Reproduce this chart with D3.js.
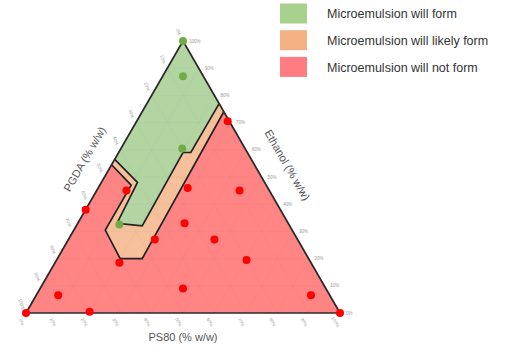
<!DOCTYPE html>
<html>
<head>
<meta charset="utf-8">
<script src="https://cdn.jsdelivr.net/npm/d3@7"></script>
<style>
  body { margin: 0; background: #fff; }
  svg { display: block; font-family: "Liberation Sans", Arial, sans-serif; }
</style>
</head>
<body>
<svg id="chart" width="508" height="351"></svg>
<script>
// values are [Ethanol %, PS80 %], PGDA is the rest
var formPoints = [[100, 0], [87, 6.5], [60.5, 19.5], [32.5, 13.5]];
var notFormPoints = [
  [70.5, 29], [45, 9.5], [46, 28.5], [45, 45.5], [38, 0], [33, 34],
  [27, 27.5], [27, 46.5], [18.5, 20.5], [19.5, 60.5], [9, 45.5],
  [6.5, 7], [0.5, 20], [0, 0], [6.5, 87.5], [0, 100]
];
// region boundaries, from left edge to right edge
var formEdge = [[56.5, 0], [48, 11.5], [33, 12.5], [32, 21], [59, 20.5], [59, 23], [77, 23]];
var likelyEdge = [[54.5, 0], [47, 10], [30.5, 10], [20, 20], [20, 27], [74, 26]];

var tickValues = [0, 10, 20, 30, 40, 50, 60, 70, 80, 90, 100];
var legendLabels = ["Microemulsion will form", "Microemulsion will likely form", "Microemulsion will not form"];
var legendColors = ["#a9d18e", "#f4b183", "#ff7c80"];

var svg = d3.select("#chart");

var xScale = d3.scaleLinear().domain([0, 100]).range([26, 340]);
var yScale = d3.scaleLinear().domain([0, 100]).range([313, 41]);

// ternary -> screen
function px(d) { return xScale(d[1] + d[0] / 2); }
function py(d) { return yScale(d[0]); }
var line = d3.line().x(px).y(py);

var apex = [100, 0], bl = [0, 0], br = [0, 100];

// red background triangle
svg.append("path")
  .attr("d", line([bl, br, apex]) + "Z")
  .attr("fill", "#ff8484");

// likely form area
svg.append("path")
  .attr("d", line(likelyEdge.concat([apex])) + "Z")
  .attr("fill", "#f6c09b");

// form area
svg.append("path")
  .attr("d", line(formEdge.concat([apex])) + "Z")
  .attr("fill", "#b3d5a2");

// faint grid
var grid = svg.append("g")
  .attr("stroke", "#7a7a7a")
  .attr("stroke-opacity", 0.1)
  .attr("stroke-width", 0.7);
tickValues.slice(1, -1).forEach(function(v) {
  grid.append("path").attr("d", line([[v, 0], [v, 100 - v]]));
  grid.append("path").attr("d", line([[0, v], [100 - v, v]]));
  grid.append("path").attr("d", line([[0, 100 - v], [100 - v, 0]]));
});

// boundary lines
[formEdge, likelyEdge].forEach(function(edge) {
  svg.append("path")
    .attr("d", line(edge))
    .attr("fill", "none")
    .attr("stroke", "#222")
    .attr("stroke-width", 1.7);
});

// outline
svg.append("path")
  .attr("d", line([bl, br, apex]) + "Z")
  .attr("fill", "none")
  .attr("stroke", "#2a2a2a")
  .attr("stroke-width", 1.7);

// points
svg.selectAll(".red").data(notFormPoints).enter().append("circle")
  .attr("class", "red")
  .attr("cx", px).attr("cy", py).attr("r", 4)
  .attr("fill", "#ff0000");
svg.selectAll(".green").data(formPoints).enter().append("circle")
  .attr("class", "green")
  .attr("cx", px).attr("cy", py).attr("r", 4)
  .attr("fill", "#70ad47");

// tick labels
var ticks = svg.append("g")
  .attr("fill", "#9a9a9a")
  .style("font-size", "4.5px");

// Ethanol, right edge
tickValues.forEach(function(t) {
  var p = [t, 100 - t];
  ticks.append("text")
    .attr("x", px(p) + 6).attr("y", py(p))
    .attr("dy", "0.35em")
    .text(t + "%");
});
// PS80, bottom
tickValues.forEach(function(t) {
  var p = [0, t];
  var x = px(p) - 4.5, y = py(p) + 9;
  ticks.append("text")
    .attr("transform", "translate(" + x + "," + y + ") rotate(60)")
    .attr("text-anchor", "middle")
    .attr("dy", "0.35em")
    .text(t + "%");
});
// PGDA, left edge
tickValues.forEach(function(t) {
  var p = [100 - t, 0];
  var x = px(p) - 4.5, y = py(p) - 9;
  ticks.append("text")
    .attr("transform", "translate(" + x + "," + y + ") rotate(70)")
    .attr("text-anchor", "middle")
    .attr("dy", "0.35em")
    .text(t + "%");
});

// axis titles
var titles = svg.append("g")
  .attr("fill", "#555")
  .style("font-size", "11px")
  .attr("text-anchor", "middle");
titles.append("text")
  .attr("x", 183).attr("y", 341)
  .text("PS80 (% w/w)");
titles.append("text")
  .attr("transform", "translate(88,161) rotate(-60)")
  .text("PGDA (% w/w)");
titles.append("text")
  .attr("transform", "translate(284,167) rotate(60)")
  .text("Ethanol (% w/w)");

// legend
var legend = svg.append("g");
legendLabels.forEach(function(lab, i) {
  legend.append("rect")
    .attr("x", 280).attr("y", 3.5 + i * 26.7)
    .attr("width", 27).attr("height", 20)
    .attr("fill", legendColors[i]);
  legend.append("text")
    .attr("x", 327).attr("y", 14 + i * 26.7)
    .attr("dy", "0.35em")
    .attr("fill", "#333")
    .style("font-size", "12.5px")
    .text(lab);
});
</script>
</body>
</html>
